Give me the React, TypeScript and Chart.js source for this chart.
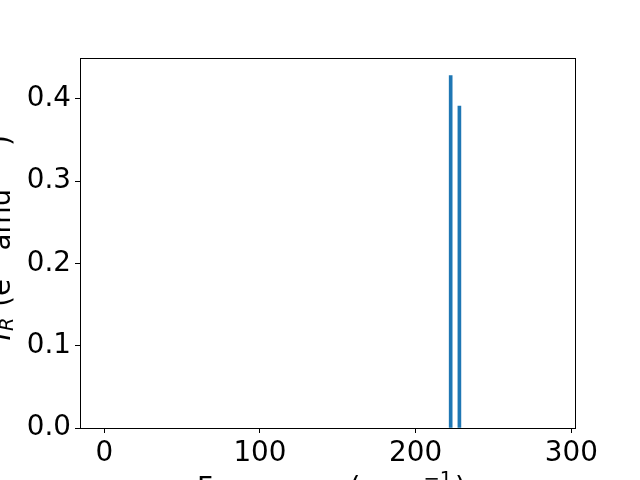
import React, { useEffect, useRef } from "react";
import { Chart, registerables } from "chart.js";

Chart.register(...registerables);

// Data
const frequencies = [222.5, 228.1]; // cm^-1
const intensities = [0.428, 0.391]; // e^2 amu^-1
const xRange = [-15.6, 303.0];
const yRange = [0, 0.4494];
const xTicks = [0, 100, 200, 300];
const yTicks = [0, 0.1, 0.2, 0.3, 0.4];

const BAR_COLOR = "#1f77b4";
const FONT = "'DejaVu Sans', sans-serif";
const FS = 27.8;

type Seg = { t: string; italic?: boolean; scale?: number; dy?: number };

const yLabelSegs: Seg[] = [
  { t: "I", italic: true },
  { t: "R", italic: true, scale: 0.7, dy: 0.1 },
  { t: " (e" },
  { t: "2", scale: 0.7, dy: -0.42 },
  { t: " amu" },
  { t: "\u22121", scale: 0.7, dy: -0.42 },
  { t: ")" },
];
const xLabelSegs: Seg[] = [
  { t: "Frequency (cm" },
  { t: "\u22121", scale: 0.7, dy: -0.42 },
  { t: ")" },
];

function fontFor(s: Seg) {
  return `${s.italic ? "italic " : ""}${FS * (s.scale ?? 1)}px ${FONT}`;
}

function drawSegs(ctx: CanvasRenderingContext2D, segs: Seg[], cx: number, cy: number, rotate: boolean, targetWidth: number) {
  ctx.save();
  ctx.translate(cx, cy);
  if (rotate) ctx.rotate(-Math.PI / 2);
  ctx.fillStyle = "#000";
  ctx.textBaseline = "alphabetic";
  ctx.textAlign = "left";
  let total = 0;
  const widths = segs.map((s) => {
    ctx.font = fontFor(s);
    const w = ctx.measureText(s.t).width;
    total += w;
    return w;
  });
  const k = targetWidth / total;
  let x = -targetWidth / 2;
  segs.forEach((s, i) => {
    ctx.font = fontFor(s);
    ctx.fillText(s.t, x, (s.dy ?? 0) * FS);
    x += widths[i] * k;
  });
  ctx.restore();
}

const framePlugin = {
  id: "frameAndLabels",
  afterDraw(chart: any) {
    const { ctx, chartArea } = chart;
    ctx.save();
    ctx.strokeStyle = "#000";
    ctx.lineWidth = 1;
    ctx.strokeRect(
      Math.round(chartArea.left) + 0.5,
      Math.round(chartArea.top) + 0.5,
      Math.round(chartArea.right - chartArea.left) - 1,
      Math.round(chartArea.bottom - chartArea.top)
    );
    ctx.restore();
    drawSegs(ctx, yLabelSegs, 10, 237, true, 207);
    drawSegs(ctx, xLabelSegs, 332, 497, false, 270);
  },
};

export default function App() {
  const ref = useRef<HTMLCanvasElement>(null);
  useEffect(() => {
    if (!ref.current) return;
    const chart = new Chart(ref.current, {
      type: "bar",
      data: {
        datasets: [
          {
            data: frequencies.map((f, i) => ({ x: f, y: intensities[i] })),
            backgroundColor: BAR_COLOR,
            borderWidth: 0,
            barThickness: 3,
          },
        ],
      },
      options: {
        animation: false,
        responsive: false,
        devicePixelRatio: 1,
        layout: { padding: { top: 58, right: 64, left: 0, bottom: 0 } },
        plugins: { legend: { display: false }, tooltip: { enabled: false } },
        scales: {
          x: {
            type: "linear",
            min: xRange[0],
            max: xRange[1],
            offset: false,
            grid: { offset: false, drawOnChartArea: false, drawTicks: true, tickLength: 5, color: "#000" },
            border: { display: false },
            afterBuildTicks: (s: any) => {
              s.ticks = xTicks.map((v) => ({ value: v }));
            },
            ticks: {
              padding: 4,
              color: "#000",
              font: { family: FONT, size: FS },
              maxRotation: 0,
              autoSkip: false,
              callback: (v: any) => String(Math.round(Number(v))),
            },
            afterFit: (s: any) => {
              s.height = 52;
            },
          },
          y: {
            min: yRange[0],
            max: yRange[1],
            grid: { offset: false, drawOnChartArea: false, drawTicks: true, tickLength: 5, color: "#000" },
            border: { display: false },
            afterBuildTicks: (s: any) => {
              s.ticks = yTicks.map((v) => ({ value: v }));
            },
            ticks: {
              padding: 4,
              color: "#000",
              autoSkip: false,
              font: { family: FONT, size: FS },
              callback: (v: any) => Number(v).toFixed(1),
            },
            afterFit: (s: any) => {
              s.width = 80;
            },
          },
        },
      },
      plugins: [framePlugin],
    });
    return () => chart.destroy();
  }, []);
  return (
    <div style={{ position: "fixed", left: 0, top: 0, width: 640, height: 480, background: "#fff" }}>
      <canvas ref={ref} width={640} height={480} style={{ width: 640, height: 480, display: "block" }} />
    </div>
  );
}
